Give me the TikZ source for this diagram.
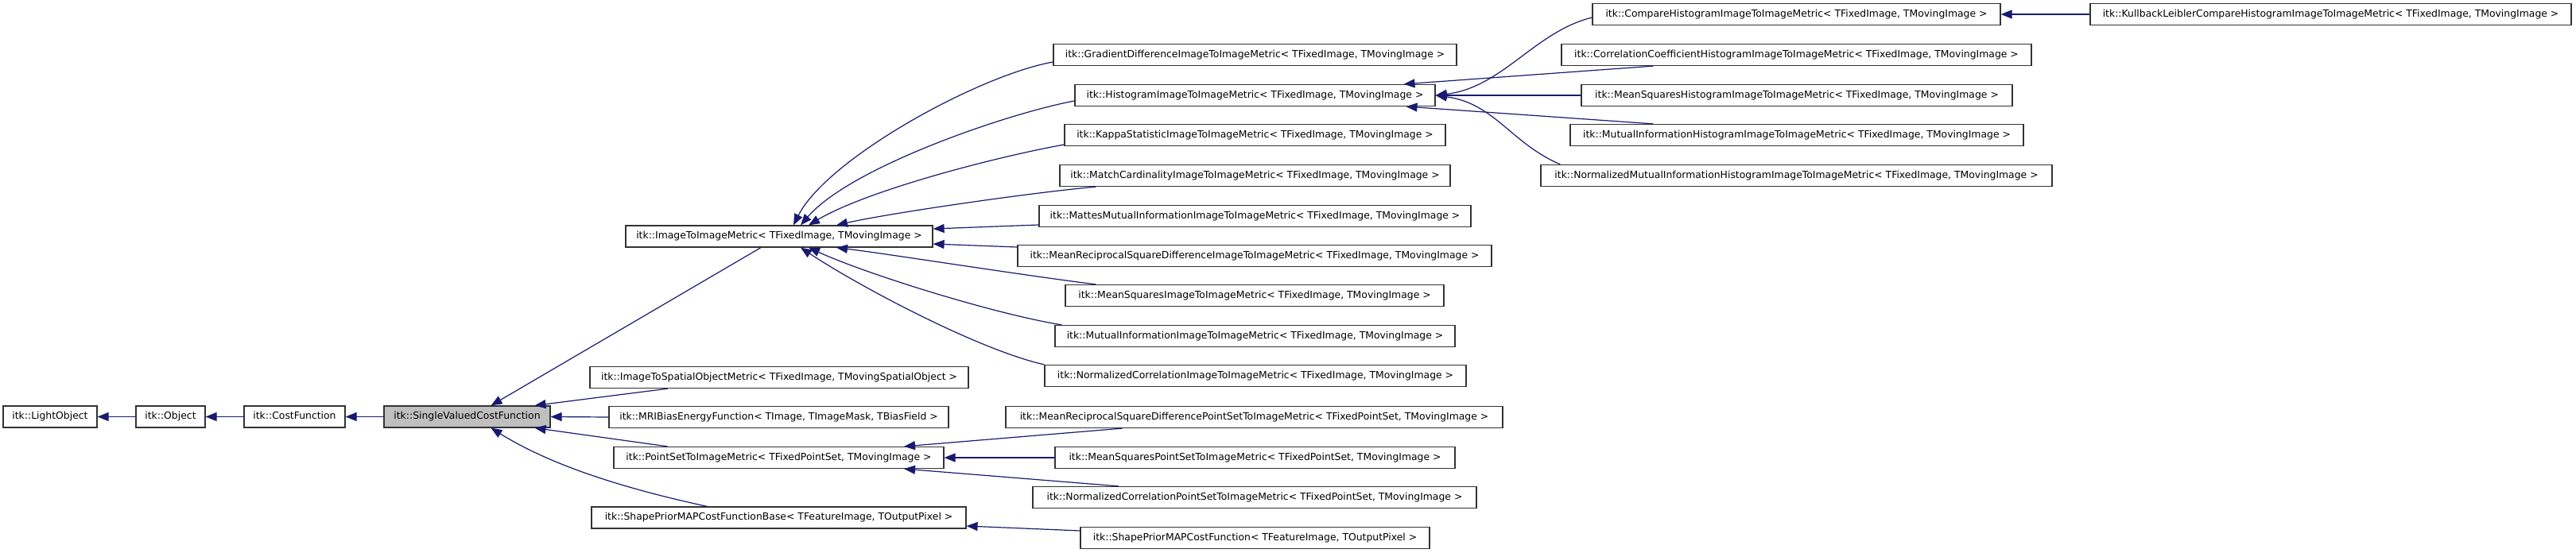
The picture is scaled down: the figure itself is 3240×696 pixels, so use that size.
\documentclass[tikz,border=0pt]{standalone}
\usepackage{fontspec}
\setmainfont{DejaVu Sans}
\usetikzlibrary{arrows.meta,calc}
\definecolor{edgeblue}{RGB}{25,25,112}
\definecolor{boxgray}{RGB}{191,191,191}
\begin{document}
\begin{tikzpicture}[x=1pt,y=-1pt,
  cls/.style={draw=black!80, line width=1.2pt, fill=white, minimum height=27pt,
    inner xsep=0pt, inner ysep=0pt, text height=9pt, text depth=2.6pt,
    font=\fontsize{12.4pt}{14pt}\selectfont, anchor=center},
  cur/.style={cls, fill=boxgray},
  inh/.style={draw=edgeblue, line width=1.2pt, -{Triangle[length=14pt,width=11pt]}}]
\useasboundingbox (0,0) rectangle (3240,696);
% left chain
\node[cls, minimum width=118pt] (lo) at (63,524.5) {itk::LightObject};
\node[cls, minimum width=87pt] (ob) at (214.5,524.5) {itk::Object};
\node[cls, minimum width=127pt] (cf) at (370.5,524.5) {itk::CostFunction};
\node[cur, minimum width=209pt] (svcf) at (587.5,524.5) {itk::SingleValuedCostFunction};
% second column
\node[cls, minimum width=386pt] (iim) at (980,297.5) {itk::ImageToImageMetric< TFixedImage, TMovingImage >};
\node[cls, minimum width=476pt] (itso) at (980,475) {itk::ImageToSpatialObjectMetric< TFixedImage, TMovingSpatialObject >};
\node[cls, minimum width=427pt] (mri) at (979.5,525) {itk::MRIBiasEnergyFunction< TImage, TImageMask, TBiasField >};
\node[cls, minimum width=415pt] (ps) at (979.5,576) {itk::PointSetToImageMetric< TFixedPointSet, TMovingImage >};
\node[cls, minimum width=471pt] (spb) at (979.5,651.5) {itk::ShapePriorMAPCostFunctionBase< TFeatureImage, TOutputPixel >};
% third column
\node[cls, minimum width=507pt] (gd) at (1578.5,69) {itk::GradientDifferenceImageToImageMetric< TFixedImage, TMovingImage >};
\node[cls, minimum width=453pt] (hist) at (1578.5,120) {itk::HistogramImageToImageMetric< TFixedImage, TMovingImage >};
\node[cls, minimum width=479pt] (kap) at (1578.5,170) {itk::KappaStatisticImageToImageMetric< TFixedImage, TMovingImage >};
\node[cls, minimum width=491pt] (mc) at (1578.5,221) {itk::MatchCardinalityImageToImageMetric< TFixedImage, TMovingImage >};
\node[cls, minimum width=543pt] (mat) at (1578.5,272) {itk::MattesMutualInformationImageToImageMetric< TFixedImage, TMovingImage >};
\node[cls, minimum width=596pt] (mrsd) at (1578,322) {itk::MeanReciprocalSquareDifferenceImageToImageMetric< TFixedImage, TMovingImage >};
\node[cls, minimum width=476pt] (ms) at (1578,372) {itk::MeanSquaresImageToImageMetric< TFixedImage, TMovingImage >};
\node[cls, minimum width=503pt] (mi) at (1578.5,423) {itk::MutualInformationImageToImageMetric< TFixedImage, TMovingImage >};
\node[cls, minimum width=530pt] (nc) at (1579,473) {itk::NormalizedCorrelationImageToImageMetric< TFixedImage, TMovingImage >};
\node[cls, minimum width=625pt] (mrsdps) at (1577.5,525) {itk::MeanReciprocalSquareDifferencePointSetToImageMetric< TFixedPointSet, TMovingImage >};
\node[cls, minimum width=503pt] (msps) at (1578.5,576) {itk::MeanSquaresPointSetToImageMetric< TFixedPointSet, TMovingImage >};
\node[cls, minimum width=558pt] (ncps) at (1578,626) {itk::NormalizedCorrelationPointSetToImageMetric< TFixedPointSet, TMovingImage >};
\node[cls, minimum width=439pt] (spm) at (1578.5,677) {itk::ShapePriorMAPCostFunction< TFeatureImage, TOutputPixel >};
% fourth column
\node[cls, minimum width=513pt] (ch) at (2259.5,18) {itk::CompareHistogramImageToImageMetric< TFixedImage, TMovingImage >};
\node[cls, minimum width=591pt] (cc) at (2259.5,69) {itk::CorrelationCoefficientHistogramImageToImageMetric< TFixedImage, TMovingImage >};
\node[cls, minimum width=542pt] (msh) at (2260,120) {itk::MeanSquaresHistogramImageToImageMetric< TFixedImage, TMovingImage >};
\node[cls, minimum width=570pt] (mih) at (2260,170) {itk::MutualInformationHistogramImageToImageMetric< TFixedImage, TMovingImage >};
\node[cls, minimum width=643pt] (nmih) at (2259.5,221) {itk::NormalizedMutualInformationHistogramImageToImageMetric< TFixedImage, TMovingImage >};
% fifth column
\node[cls, minimum width=605pt] (kl) at (2931.5,18) {itk::KullbackLeiblerCompareHistogramImageToImageMetric< TFixedImage, TMovingImage >};
% edges
\draw[inh] (ob.west) -- (lo.east);
\draw[inh] (cf.west) -- (ob.east);
\draw[inh] (svcf.west) -- (cf.east);
\draw[inh] ($(iim.south)+(-23,0)$) -- ($(svcf.north)+(30,0)$);
\draw[inh] ($(itso.south)+(-140,0)$) -- ($(svcf.north)+(85,0)$);
\draw[inh] (mri.west) -- (svcf.east);
\draw[inh] ($(ps.north)+(-140,0)$) -- ($(svcf.south)+(85,0)$);
\draw[inh] ($(spb.north)+(-90,0)$) .. controls (800,618) and (700,590) .. ($(svcf.south)+(30,0)$);
\draw[inh] ($(gd.west)+(0,9)$) .. controls (1230,95) and (1040,200) .. ($(iim.north)+(18,0)$);
\draw[inh] ($(hist.west)+(0,7)$) .. controls (1270,142) and (1070,210) .. ($(iim.north)+(27,0)$);
\draw[inh] ($(kap.west)+(0,12)$) .. controls (1250,198) and (1090,240) .. ($(iim.north)+(37,0)$);
\draw[inh] ($(mc.south west)+(46,0)$) .. controls (1300,242) and (1120,268) .. ($(iim.north)+(72,0)$);
\draw[inh] ($(mat.west)+(0,11)$) -- ($(iim.east)+(0,-9.5)$);
\draw[inh] ($(mrsd.west)+(0,-11)$) -- ($(iim.east)+(0,9.5)$);
\draw[inh] ($(ms.north west)+(39,0)$) .. controls (1290,347) and (1120,320) .. ($(iim.south)+(72,0)$);
\draw[inh] ($(mi.north west)+(9,0)$) .. controls (1250,395) and (1090,345) .. ($(iim.south)+(37,0)$);
\draw[inh] (nc.north west) .. controls (1230,440) and (1080,360) .. ($(iim.south)+(27,0)$);
\draw[inh] ($(ch.west)+(0,4)$) .. controls (1930,40) and (1890,110) .. (hist.east);
\draw[inh] ($(cc.south west)+(116,0)$) -- ($(hist.north)+(187,0)$);
\draw[inh] (msh.west) -- (hist.east);
\draw[inh] ($(mih.north west)+(105,0)$) -- ($(hist.south)+(190,0)$);
\draw[inh] ($(nmih.north west)+(25,0)$) .. controls (1900,180) and (1880,130) .. (hist.east);
\draw[inh] (kl.west) -- (ch.east);
\draw[inh] ($(mrsdps.south)+(-166,0)$) -- ($(ps.north)+(157.5,0)$);
\draw[inh] (msps.west) -- (ps.east);
\draw[inh] ($(ncps.north)+(-171,0)$) -- ($(ps.south)+(157.5,0)$);
\draw[inh] ($(spm.west)+(0,-9)$) -- ($(spb.east)+(0,10.5)$);
\end{tikzpicture}
\end{document}
